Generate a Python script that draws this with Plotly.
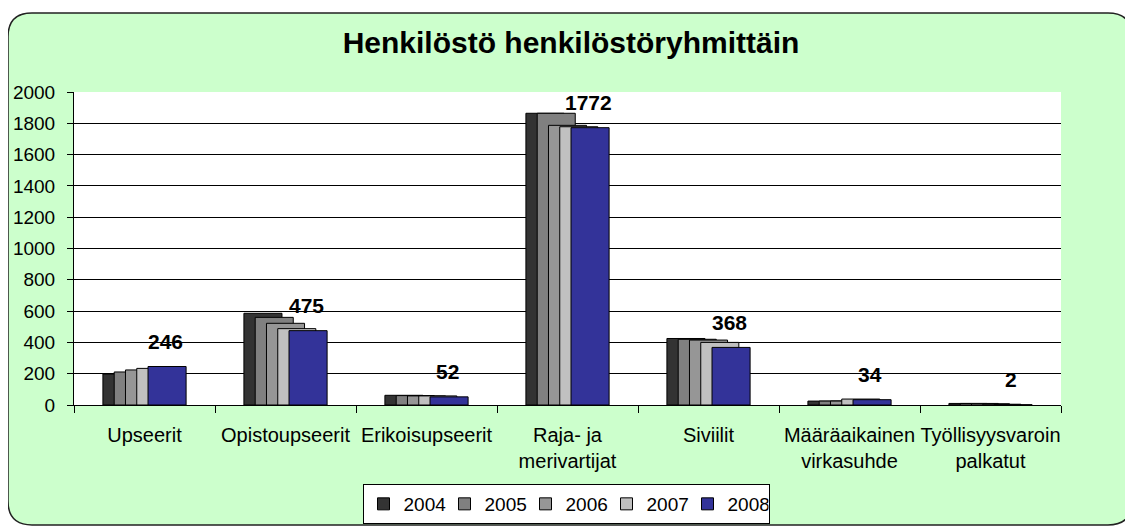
import plotly.graph_objects as go

categories = ["Upseerit", "Opistoupseerit", "Erikoisupseerit", "Raja- ja<br>merivartijat",
              "Siviilit", "Määräaikainen<br>virkasuhde", "Työllisyysvaroin<br>palkatut"]
years = ["2004", "2005", "2006", "2007", "2008"]
v2004 = [198, 586, 62, 1864, 425, 25, 10]
v2005 = [211, 560, 60, 1864, 420, 25, 10]
v2006 = [224, 522, 58, 1787, 415, 25, 8]
v2007 = [234, 488, 58, 1778, 400, 38, 5]
v2008 = [246, 475, 52, 1772, 368, 34, 2]
series = [v2004, v2005, v2006, v2007, v2008]
colors = ["#333333", "#808080", "#969696", "#C0C0C0", "#333399"]
y_ticks = [0, 200, 400, 600, 800, 1000, 1200, 1400, 1600, 1800, 2000]

# page has an 8px body margin: figure coordinates = page coordinates - 8
OFF = 8
W, H = 1133, 526
ML = 74 - OFF
MT = 92 - OFF
MR = W - (1061 - OFF)
MB = H - (405 - OFF)
FONT = "Liberation Sans, Arial, sans-serif"

bar_w = 0.27
step = 0.08
first_off = -0.295

fig = go.Figure()
for i, (yr, vals, col) in enumerate(zip(years, series, colors)):
    fig.add_trace(go.Bar(
        name=yr, x=categories, y=vals,
        width=bar_w, offset=first_off + i * step,
        marker=dict(color=col, line=dict(color="black", width=1)),
    ))

# data labels for latest year
pw = W - ML - MR
ph = H - MT - MB
cat_px = pw / len(categories)
label_dx = (first_off + 4 * step + bar_w / 2) * cat_px - 2
for c, v in zip(categories, v2008):
    fig.add_annotation(x=c, y=v, text=f"<b>{v}</b>", showarrow=False,
                       xshift=label_dx, yshift=25, yanchor="middle",
                       font=dict(family=FONT, size=21, color="black"))

# rounded chart-area background (page pixel coords -> paper coords)
def px(x):
    return (x - OFF - ML) / pw
def py(y):
    return (H - MB - (y - OFF)) / ph
L, T, R, B, r = 8, 13, 1132, 525, 24
path = (f"M{px(L+r)},{py(T)} L{px(R-r)},{py(T)} Q{px(R)},{py(T)} {px(R)},{py(T+r)} "
        f"L{px(R)},{py(B-r)} Q{px(R)},{py(B)} {px(R-r)},{py(B)} "
        f"L{px(L+r)},{py(B)} Q{px(L)},{py(B)} {px(L)},{py(B-r)} "
        f"L{px(L)},{py(T+r)} Q{px(L)},{py(T)} {px(L+r)},{py(T)} Z")
fig.add_shape(type="path", path=path, xref="paper", yref="paper",
              fillcolor="#CCFFCC", line=dict(color="#222222", width=1.5), layer="below")
fig.add_shape(type="rect", xref="paper", yref="paper", x0=0, x1=1, y0=0, y1=1,
              fillcolor="white", line=dict(width=0), layer="below")

fig.update_layout(
    width=W, height=H,
    margin=dict(l=ML, r=MR, t=MT, b=MB, autoexpand=False),
    paper_bgcolor="white", plot_bgcolor="white",
    barmode="overlay",
    title=dict(text="<b>Henkilöstö henkilöstöryhmittäin</b>", x=(571 - OFF) / W,
               xref="container", xanchor="center", y=1 - (42 - OFF) / H, yanchor="middle",
               font=dict(family=FONT, size=30, color="black")),
    font=dict(family=FONT, size=19, color="black"),
    showlegend=True,
    legend=dict(orientation="h", x=px(566), xanchor="center",
                y=py(484), yanchor="top",
                bgcolor="white", bordercolor="black", borderwidth=1,
                font=dict(family=FONT, size=19, color="black"),
                itemwidth=30, entrywidth=36, entrywidthmode="pixels",
                traceorder="normal"),
)
fig.update_xaxes(showline=True, linecolor="black", linewidth=1, automargin=False,
                 ticks="outside", ticklen=7, tickcolor="black", tickson="boundaries",
                 showgrid=False, ticklabelstandoff=12, tickangle=0,
                 tickfont=dict(family=FONT, size=20, color="black"))
fig.update_yaxes(range=[0, 2000], tickvals=y_ticks, showline=True, linecolor="black",
                 linewidth=1, ticks="outside", ticklen=6, tickcolor="black", automargin=False,
                 showgrid=True, gridcolor="black", gridwidth=1, zeroline=False,
                 ticklabelstandoff=8,
                 tickfont=dict(family=FONT, size=19, color="black"))

fig.write_html("out.html", config={"displayModeBar": False})
